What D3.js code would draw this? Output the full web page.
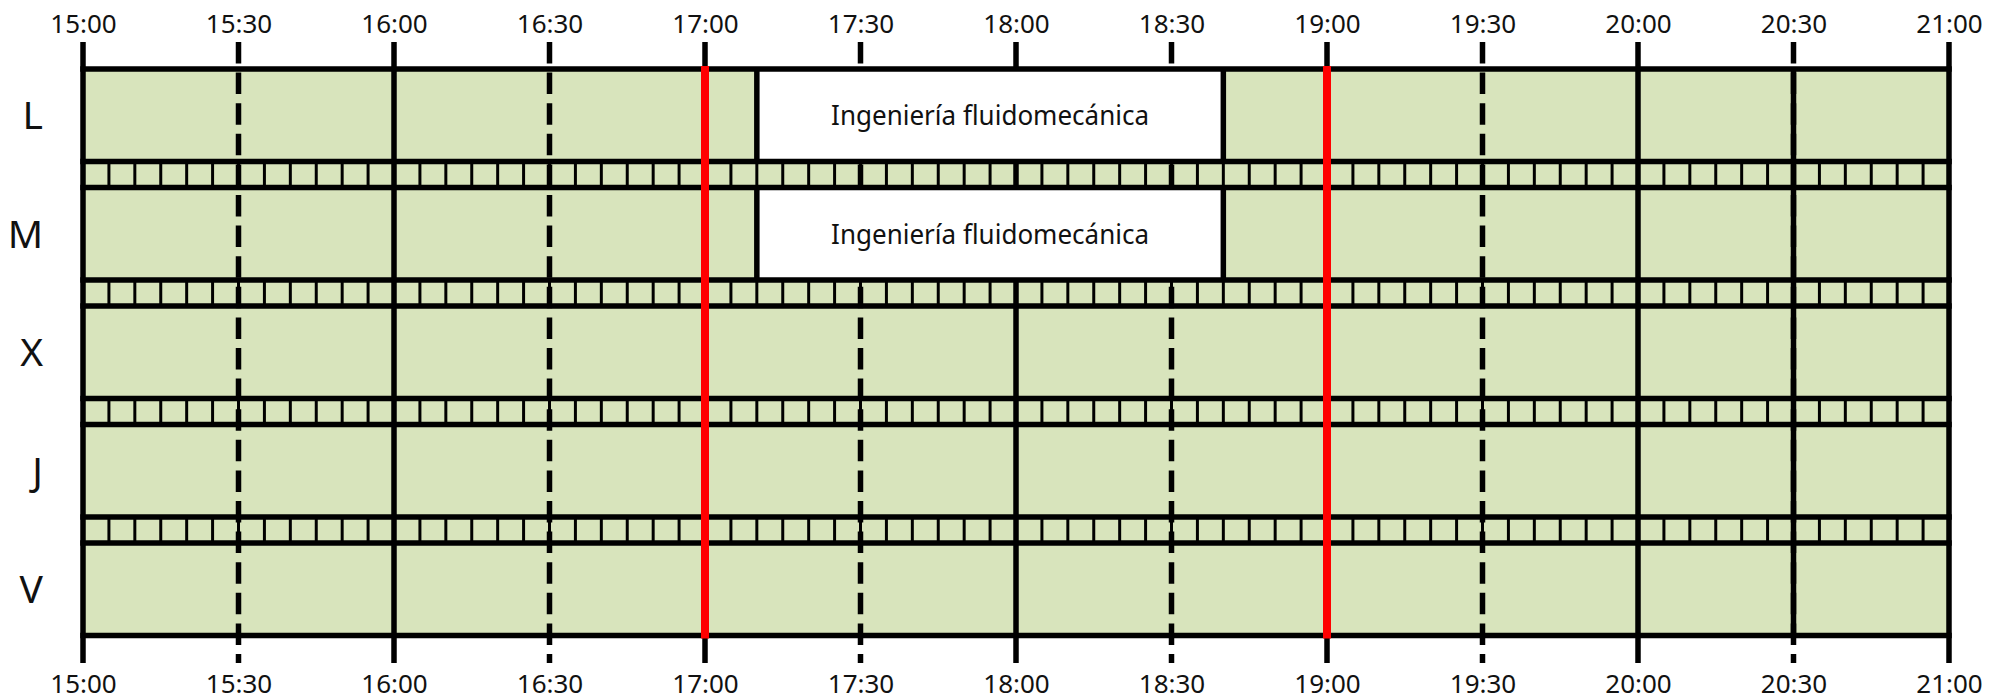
<!DOCTYPE html>
<html>
<head>
<meta charset="utf-8">
<script src="https://cdn.jsdelivr.net/npm/d3@7"></script>
<style>
  html, body { margin: 0; padding: 0; background: #ffffff; }
  svg { display: block; }
  text { font-family: "Noto Sans", "Open Sans", sans-serif; fill: #111; }
</style>
</head>
<body>
<svg id="chart" width="2005" height="700"></svg>
<script>
// ---- data ----
const days = ["L", "M", "X", "J", "V"];
const timeTicks = ["15:00", "15:30", "16:00", "16:30", "17:00", "17:30", "18:00",
                   "18:30", "19:00", "19:30", "20:00", "20:30", "21:00"];
const classDays = ["L", "M"];
const classNames = ["Ingeniería fluidomecánica", "Ingeniería fluidomecánica"];
const classStarts = ["17:10", "17:10"];
const classEnds = ["18:40", "18:40"];
const markerTimes = ["17:00", "19:00"];
const solidHalfHours = ["20:30"];
const slotMinutes = 5;

// ---- helpers ----
const toMin = s => { const [h, m] = s.split(":").map(Number); return h * 60 + m; };
const svg = d3.select("#chart");

const x = d3.scaleLinear()
  .domain([toMin(timeTicks[0]), toMin(timeTicks[timeTicks.length - 1])])
  .range([83, 1949]);

const y = d3.scaleBand()
  .domain(days)
  .range([69, 635.5])
  .paddingInner(26 / 118.5)
  .paddingOuter(0);

const LW = 5.5;
const green = "#d8e4bc";
const yTop = y(days[0]);
const yBot = y(days[days.length - 1]) + y.bandwidth();

// 1. background fill
svg.append("rect")
  .attr("x", x.range()[0]).attr("y", yTop)
  .attr("width", x.range()[1] - x.range()[0]).attr("height", yBot - yTop)
  .attr("fill", green);

// 2. slot dividers in the strips between days
const slots = d3.range(x.domain()[0] + slotMinutes, x.domain()[1], slotMinutes);
const strips = days.slice(0, -1).map((d, i) => ({
  y0: y(d) + y.bandwidth(),
  y1: y(days[i + 1])
}));
const gStrip = svg.append("g");
strips.forEach(s => {
  gStrip.selectAll(null).data(slots).join("line")
    .attr("x1", d => x(d)).attr("x2", d => x(d))
    .attr("y1", s.y0).attr("y2", s.y1)
    .attr("stroke", "#000").attr("stroke-width", 3);
});

// 3. vertical time lines
const tickMins = timeTicks.map(toMin);
const gV = svg.append("g");
gV.selectAll(null).data(tickMins).join("line")
  .attr("x1", d => x(d)).attr("x2", d => x(d))
  .attr("y1", 42).attr("y2", 663)
  .attr("stroke", "#000").attr("stroke-width", LW)
  .attr("stroke-dasharray", d => (d % 60 === 0) ? null : "21.5,9.1");
gV.selectAll(null).data(solidHalfHours.map(toMin)).join("line")
  .attr("x1", d => x(d)).attr("x2", d => x(d))
  .attr("y1", yTop).attr("y2", yBot)
  .attr("stroke", "#000").attr("stroke-width", LW);

// 4. class boxes
const classes = classDays.map((d, i) => ({
  day: d, name: classNames[i], s: toMin(classStarts[i]), e: toMin(classEnds[i])
}));
const gC = svg.append("g");
classes.forEach(c => {
  gC.append("rect")
    .attr("x", x(c.s)).attr("y", y(c.day))
    .attr("width", x(c.e) - x(c.s)).attr("height", y.bandwidth())
    .attr("fill", "#fff");
  [c.s, c.e].forEach(t => {
    gC.append("line")
      .attr("x1", x(t)).attr("x2", x(t))
      .attr("y1", y(c.day)).attr("y2", y(c.day) + y.bandwidth())
      .attr("stroke", "#000").attr("stroke-width", LW);
  });
  gC.append("text")
    .attr("x", (x(c.s) + x(c.e)) / 2)
    .attr("y", y(c.day) + y.bandwidth() / 2 + 10)
    .attr("text-anchor", "middle")
    .attr("font-size", 28)
    .attr("textLength", 318)
    .attr("lengthAdjust", "spacingAndGlyphs")
    .text(c.name);
});

// 5. horizontal lines
const hLines = [];
days.forEach(d => { hLines.push(y(d)); hLines.push(y(d) + y.bandwidth()); });
svg.append("g").selectAll(null).data(hLines).join("line")
  .attr("x1", x.range()[0] - LW / 2).attr("x2", x.range()[1] + LW / 2)
  .attr("y1", d => d).attr("y2", d => d)
  .attr("stroke", "#000").attr("stroke-width", LW);

// 6. red marker lines
svg.append("g").selectAll(null).data(markerTimes.map(toMin)).join("line")
  .attr("x1", d => x(d)).attr("x2", d => x(d))
  .attr("y1", yTop - 3).attr("y2", yBot + 3)
  .attr("stroke", "#ff0000").attr("stroke-width", 8);

// 7. axes labels
const fmt = m => timeTicks[tickMins.indexOf(m)];
const axTop = svg.append("g").attr("transform", `translate(0,${yTop})`)
  .call(d3.axisTop(x).tickValues(tickMins).tickFormat(fmt).tickSize(0).tickPadding(36));
const axBot = svg.append("g").attr("transform", `translate(0,${yBot})`)
  .call(d3.axisBottom(x).tickValues(tickMins).tickFormat(fmt).tickSize(0).tickPadding(38));
[axTop, axBot].forEach(a => {
  a.select(".domain").remove();
  a.selectAll("text").attr("font-size", 26).attr("font-family", '"Noto Sans", sans-serif').attr("fill", "#111");
});
axTop.selectAll("text").attr("y", 33.3 - yTop).attr("dy", null);
axBot.selectAll("text").attr("y", 692.7 - yBot).attr("dy", null);

// 8. day labels
svg.append("g").selectAll(null).data(days).join("text")
  .attr("x", 43)
  .attr("y", d => y(d) + y.bandwidth() / 2 + 14)
  .attr("text-anchor", "end")
  .attr("font-size", 39)
  .text(d => d);
</script>
</body>
</html>
